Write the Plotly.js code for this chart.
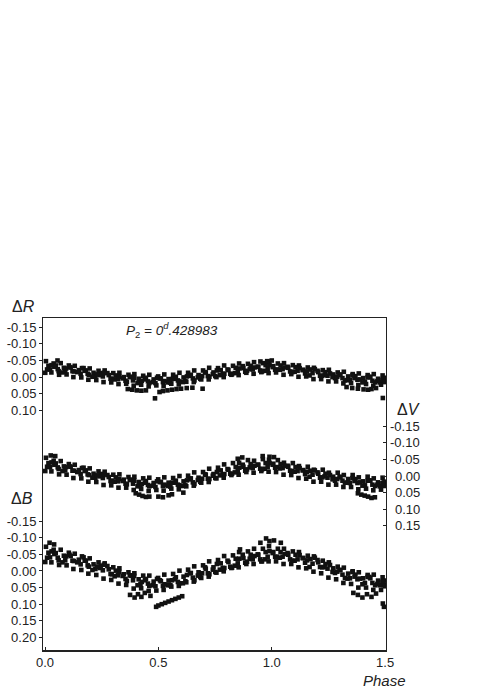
<!DOCTYPE html>
<html>
<head>
<meta charset="utf-8">
<script src="https://cdn.plot.ly/plotly-3.0.1.min.js"></script>
<style>html,body{margin:0;padding:0;background:#fff;}#chart{width:491px;height:693px;}</style>
</head>
<body>
<div id="chart"></div>
<script>
// Phases of six observation runs (shared by all filters)
var ph1 = [0.004,0.038,0.069,0.105,0.131,0.170,0.197,0.236,0.263,0.301,0.328,0.368,0.394,0.433,0.460,0.499,0.526,0.565,0.593,0.631,0.658,0.697,0.724,0.763,0.790,0.829,0.856,0.895,0.922,0.961,0.988,1.027,1.054,1.093,1.120,1.159,1.186,1.225,1.252,1.291,1.318,1.357,1.384,1.423,1.450,1.489];
var ph2 = [0.015,0.047,0.083,0.113,0.149,0.180,0.214,0.246,0.281,0.312,0.347,0.379,0.413,0.445,0.479,0.511,0.545,0.577,0.611,0.643,0.677,0.709,0.743,0.775,0.809,0.841,0.875,0.907,0.941,0.973,1.007,1.039,1.073,1.105,1.139,1.171,1.205,1.237,1.271,1.303,1.337,1.369,1.403,1.435,1.469,1.497];
var ph3 = [0.022,0.056,0.089,0.121,0.157,0.188,0.222,0.255,0.289,0.321,0.355,0.388,0.421,0.454,0.487,0.520,0.553,0.586,0.619,0.652,0.685,0.718,0.751,0.784,0.817,0.850,0.883,0.916,0.949,0.982,1.015,1.048,1.081,1.114,1.147,1.180,1.213,1.246,1.279,1.312,1.345,1.378,1.411,1.444,1.477,1.494];
var ph4 = [0.001,0.028,0.062,0.095,0.125,0.160,0.191,0.226,0.258,0.292,0.324,0.358,0.391,0.424,0.457,0.491,0.523,0.557,0.590,0.623,0.656,0.689,0.722,0.756,0.788,0.822,0.854,0.888,0.920,0.954,0.986,1.019,1.052,1.086,1.118,1.152,1.184,1.218,1.250,1.284,1.316,1.350,1.382,1.416,1.448,1.482];
var ph5 = [0.009,0.041,0.077,0.108,0.142,0.175,0.209,0.241,0.275,0.307,0.342,0.374,0.408,0.441,0.475,0.507,0.541,0.573,0.608,0.639,0.674,0.706,0.740,0.771,0.805,0.837,0.872,0.903,0.938,0.969,1.004,1.036,1.070,1.101,1.136,1.167,1.202,1.233,1.268,1.299,1.334,1.365,1.400,1.431,1.466,1.492];
var ph6 = [0.029,0.060,0.093,0.127,0.163,0.193,0.229,0.260,0.295,0.327,0.361,0.393,0.427,0.460,0.494,0.527,0.560,0.592,0.626,0.659,0.693,0.725,0.758,0.791,0.825,0.857,0.891,0.924,0.957,0.990,1.023,1.057,1.090,1.123,1.156,1.190,1.223,1.257,1.289,1.323,1.356,1.389,1.423,1.456,1.488,1.499];

// Delta R
var r1 = [-0.048,-0.041,-0.042,-0.035,-0.034,-0.027,-0.026,-0.019,-0.020,-0.012,-0.013,-0.007,-0.009,-0.004,-0.007,-0.002,-0.008,-0.007,-0.013,-0.013,-0.020,-0.020,-0.028,-0.027,-0.035,-0.034,-0.041,-0.040,-0.045,-0.042,-0.047,-0.041,-0.042,-0.036,-0.035,-0.029,-0.028,-0.021,-0.022,-0.014,-0.016,-0.009,-0.011,-0.006,-0.009,-0.005];
var r2 = [-0.034,-0.035,-0.028,-0.029,-0.021,-0.020,-0.013,-0.012,-0.006,-0.005,0.000,-0.001,0.005,0.002,0.007,0.004,0.006,-0.001,0.001,-0.007,-0.006,-0.014,-0.014,-0.021,-0.021,-0.028,-0.027,-0.034,-0.031,-0.036,-0.033,-0.035,-0.028,-0.030,-0.022,-0.023,-0.015,-0.015,-0.008,-0.008,-0.002,-0.003,0.003,0.000,0.005,0.002];
var r3 = [-0.023,-0.024,-0.017,-0.018,-0.010,-0.010,-0.002,-0.002,0.005,0.006,0.011,0.010,0.016,0.013,0.018,0.015,0.017,0.010,0.012,0.004,0.005,-0.003,-0.003,-0.010,-0.010,-0.017,-0.016,-0.023,-0.020,-0.025,-0.022,-0.024,-0.017,-0.019,-0.011,-0.012,-0.004,-0.004,0.003,0.003,0.009,0.008,0.014,0.011,0.016,0.013];
var r4 = [-0.013,-0.014,-0.007,-0.008,0.000,0.001,0.008,0.009,0.015,0.016,0.021,0.020,0.026,0.023,0.028,0.025,0.027,0.020,0.022,0.014,0.015,0.007,0.007,0.000,0.000,-0.007,-0.006,-0.013,-0.010,-0.015,-0.012,-0.014,-0.007,-0.009,-0.001,-0.002,0.006,0.006,0.013,0.013,0.019,0.018,0.024,0.021,0.026,0.023];
var r5 = [-0.023,-0.031,-0.014,-0.030,-0.015,-0.019,-0.001,-0.006,-0.012,0.007,0.004,0.000,0.018,0.007,0.015,0.004,0.016,0.005,0.015,-0.004,0.001,-0.015,-0.009,-0.006,-0.023,-0.012,-0.033,-0.024,-0.031,-0.019,-0.030,-0.022,-0.031,-0.016,-0.021,-0.005,-0.019,-0.007,0.000,-0.006,0.009,0.003,0.016,-0.001,0.012,0.005];
var r6 = [-0.036,-0.018,-0.026,-0.017,-0.027,-0.007,-0.008,-0.013,0.005,-0.001,0.014,0.002,0.011,0.018,0.002,0.012,0.006,0.013,-0.002,0.010,-0.003,-0.001,-0.020,-0.010,-0.009,-0.026,-0.019,-0.029,-0.017,-0.036,-0.023,-0.029,-0.015,-0.027,-0.017,-0.024,-0.004,-0.011,-0.001,0.010,-0.005,0.007,0.001,0.016,0.008,0.015];
var rxPh = [0.365,0.385,0.405,0.425,0.445,0.485,0.505,0.520,0.540,0.560,0.580,0.600,0.625,0.650,0.695,1.330,1.355,1.380,1.405,1.425,1.440,1.460,1.490,0.055,0.980,1.000,0.950];
var rxMag = [0.036,0.038,0.040,0.041,0.040,0.064,0.045,0.042,0.040,0.038,0.036,0.035,0.033,0.032,0.035,0.030,0.033,0.035,0.037,0.038,0.036,0.033,0.063,-0.050,-0.048,-0.050,-0.047];

// Delta V
var v1 = [-0.055,-0.046,-0.045,-0.036,-0.034,-0.025,-0.023,-0.014,-0.013,-0.004,-0.005,0.003,0.002,0.007,0.005,0.010,0.004,0.006,0.000,-0.001,-0.011,-0.012,-0.022,-0.025,-0.035,-0.039,-0.040,-0.048,-0.046,-0.051,-0.049,-0.048,-0.040,-0.039,-0.030,-0.028,-0.019,-0.019,-0.010,-0.010,-0.003,-0.003,0.004,0.002,0.007,0.005];
var v2 = [-0.039,-0.038,-0.029,-0.028,-0.018,-0.017,-0.007,-0.006,0.003,0.004,0.011,0.011,0.018,0.015,0.021,0.018,0.020,0.014,0.016,0.007,0.005,-0.004,-0.006,-0.017,-0.019,-0.027,-0.028,-0.036,-0.034,-0.039,-0.037,-0.036,-0.028,-0.027,-0.018,-0.016,-0.007,-0.007,0.002,0.002,0.009,0.009,0.016,0.014,0.019,0.017];
var v3 = [-0.027,-0.026,-0.017,-0.016,-0.006,-0.005,0.005,0.006,0.015,0.016,0.023,0.023,0.030,0.027,0.033,0.030,0.032,0.026,0.028,0.019,0.017,0.008,0.006,-0.005,-0.007,-0.015,-0.016,-0.024,-0.022,-0.027,-0.025,-0.024,-0.016,-0.015,-0.006,-0.004,0.005,0.005,0.014,0.014,0.021,0.021,0.028,0.026,0.031,0.029];
var v4 = [-0.015,-0.014,-0.005,-0.004,0.006,0.007,0.017,0.018,0.027,0.028,0.035,0.035,0.042,0.039,0.045,0.042,0.044,0.038,0.040,0.031,0.029,0.020,0.018,0.007,0.005,-0.003,-0.004,-0.012,-0.010,-0.015,-0.013,-0.012,-0.004,-0.003,0.006,0.008,0.017,0.017,0.026,0.026,0.033,0.033,0.040,0.038,0.043,0.041];
var v5 = [-0.028,-0.034,-0.015,-0.029,-0.012,-0.015,0.005,0.001,-0.003,0.017,0.015,0.012,0.031,0.020,0.029,0.018,0.030,0.020,0.030,0.010,0.012,-0.005,-0.001,-0.002,-0.021,-0.011,-0.034,-0.026,-0.034,-0.022,-0.034,-0.023,-0.031,-0.013,-0.017,0.002,-0.011,0.001,0.010,0.004,0.020,0.015,0.029,0.013,0.026,0.020];
var v6 = [-0.041,-0.021,-0.027,-0.016,-0.024,-0.003,-0.002,-0.006,0.014,0.009,0.025,0.014,0.024,0.031,0.016,0.026,0.020,0.028,0.013,0.024,0.008,0.009,-0.012,-0.006,-0.007,-0.025,-0.020,-0.031,-0.020,-0.039,-0.027,-0.030,-0.015,-0.024,-0.013,-0.017,0.004,-0.003,0.009,0.020,0.006,0.019,0.014,0.030,0.022,0.030];
var vxPh = [0.400,0.415,0.430,0.445,0.460,0.500,0.520,0.545,0.560,1.380,1.395,1.410,1.425,1.440,1.455,0.850,0.870,0.960,0.990,1.010,0.025,0.045,0.610];
var vxMag = [0.052,0.056,0.060,0.063,0.062,0.062,0.064,0.058,0.055,0.052,0.056,0.059,0.062,0.066,0.064,-0.052,-0.056,-0.060,-0.058,-0.057,-0.062,-0.060,0.050];

// Delta B
var b1 = [-0.073,-0.064,-0.064,-0.055,-0.052,-0.041,-0.038,-0.026,-0.023,-0.011,-0.008,0.004,0.007,0.014,0.014,0.021,0.011,0.009,-0.001,-0.004,-0.014,-0.017,-0.029,-0.033,-0.045,-0.047,-0.057,-0.059,-0.067,-0.067,-0.075,-0.067,-0.067,-0.059,-0.057,-0.046,-0.044,-0.031,-0.026,-0.013,-0.010,0.001,0.004,0.012,0.011,0.019];
var b2 = [-0.055,-0.054,-0.046,-0.045,-0.034,-0.031,-0.020,-0.016,-0.005,-0.001,0.010,0.014,0.025,0.024,0.032,0.031,0.029,0.019,0.017,0.006,0.004,-0.007,-0.011,-0.023,-0.027,-0.037,-0.039,-0.049,-0.049,-0.057,-0.057,-0.057,-0.049,-0.049,-0.039,-0.036,-0.026,-0.021,-0.008,-0.003,0.008,0.011,0.022,0.022,0.029,0.029];
var b3 = [-0.041,-0.040,-0.032,-0.031,-0.020,-0.017,-0.006,-0.002,0.009,0.013,0.024,0.028,0.039,0.038,0.046,0.045,0.043,0.033,0.031,0.020,0.018,0.007,0.003,-0.009,-0.013,-0.023,-0.025,-0.035,-0.035,-0.043,-0.043,-0.043,-0.035,-0.035,-0.025,-0.022,-0.012,-0.007,0.006,0.011,0.022,0.025,0.036,0.036,0.043,0.043];
var b4 = [-0.027,-0.026,-0.018,-0.017,-0.006,-0.003,0.008,0.012,0.023,0.027,0.038,0.042,0.053,0.052,0.060,0.059,0.057,0.047,0.045,0.034,0.032,0.021,0.017,0.005,0.001,-0.009,-0.011,-0.021,-0.021,-0.029,-0.029,-0.029,-0.021,-0.021,-0.011,-0.008,0.002,0.007,0.020,0.025,0.036,0.039,0.050,0.050,0.057,0.057];
var b5 = [-0.040,-0.051,-0.026,-0.049,-0.026,-0.031,-0.003,-0.009,-0.015,0.016,0.015,0.013,0.043,0.028,0.043,0.028,0.043,0.025,0.037,0.007,0.014,-0.011,-0.004,-0.004,-0.031,-0.016,-0.049,-0.037,-0.050,-0.035,-0.054,-0.040,-0.054,-0.031,-0.039,-0.012,-0.033,-0.012,0.003,-0.003,0.023,0.017,0.040,0.018,0.039,0.030];
var b6 = [-0.059,-0.032,-0.044,-0.030,-0.044,-0.013,-0.013,-0.019,0.010,0.003,0.030,0.015,0.033,0.045,0.024,0.040,0.028,0.037,0.012,0.028,0.007,0.010,-0.021,-0.009,-0.010,-0.037,-0.028,-0.045,-0.029,-0.060,-0.043,-0.051,-0.031,-0.048,-0.032,-0.040,-0.011,-0.018,0.002,0.021,0.003,0.023,0.018,0.043,0.032,0.046];
var bxPh = [0.490,0.500,0.515,0.530,0.545,0.560,0.575,0.590,0.605,0.375,0.395,0.410,0.425,0.440,0.465,1.360,1.380,1.400,1.420,1.440,1.460,1.495,1.490,0.975,0.990,1.010,0.950,1.040,0.020,0.040,0.860];
var bxMag = [0.108,0.104,0.100,0.096,0.092,0.088,0.084,0.080,0.076,0.072,0.080,0.070,0.078,0.066,0.075,0.066,0.072,0.080,0.070,0.078,0.068,0.108,0.098,-0.098,-0.090,-0.092,-0.085,-0.085,-0.085,-0.080,-0.065];

// Tick labels
var xTicks = [0, 0.5, 1.0, 1.5];
var rTicks = [-0.15, -0.10, -0.05, 0.00, 0.05, 0.10];
var vTicks = [-0.15, -0.10, -0.05, 0.00, 0.05, 0.10, 0.15];
var bTicks = [-0.15, -0.10, -0.05, 0.00, 0.05, 0.10, 0.15, 0.20];
var periodLabel = '<i>P</i><sub>2</sub><i> = 0</i><sup><i>d</i></sup><i>.428983</i>';

var allPh = ph1.concat(ph2, ph3, ph4, ph5, ph6);
function fmt(v){ return v.toFixed(2); }
var mk = {symbol: 'square', size: 4.6, color: '#111', line: {width: 0}};
var FONT = 'Liberation Sans, Arial, sans-serif';

var traces = [
  {x: allPh.concat(rxPh), y: r1.concat(r2, r3, r4, r5, r6, rxMag), xaxis: 'x', yaxis: 'y', type: 'scatter', mode: 'markers', marker: mk, hoverinfo: 'none'},
  {x: allPh.concat(vxPh), y: v1.concat(v2, v3, v4, v5, v6, vxMag), xaxis: 'x', yaxis: 'y2', type: 'scatter', mode: 'markers', marker: mk, hoverinfo: 'none'},
  {x: allPh.concat(bxPh), y: b1.concat(b2, b3, b4, b5, b6, bxMag), xaxis: 'x', yaxis: 'y3', type: 'scatter', mode: 'markers', marker: mk, hoverinfo: 'none'}
];

var tickFont = {family: FONT, size: 13, color: '#222'};
var annotations = [
  {text: '\u0394<i>R</i>', xref: 'paper', yref: 'paper', x: -0.058, y: 1.036, xanchor: 'center', yanchor: 'middle', showarrow: false, font: {family: FONT, size: 16, color: '#222'}},
  {text: '\u0394<i>B</i>', xref: 'paper', yref: 'paper', x: -0.061, y: 0.455, xanchor: 'center', yanchor: 'middle', showarrow: false, font: {family: FONT, size: 16, color: '#222'}},
  {text: '\u0394<i>V</i>', xref: 'paper', yref: 'paper', x: 1.067, y: 0.723, xanchor: 'center', yanchor: 'middle', showarrow: false, font: {family: FONT, size: 16, color: '#222'}},
  {text: periodLabel, xref: 'paper', yref: 'paper', x: 0.236, y: 0.964, xanchor: 'left', yanchor: 'middle', showarrow: false, font: {family: FONT, size: 13.5, color: '#222'}},
  {text: '<i>Phase</i>', xref: 'paper', yref: 'paper', x: 0.997, y: -0.093, xanchor: 'center', yanchor: 'middle', showarrow: false, font: {family: FONT, size: 15, color: '#222'}}
];
vTicks.forEach(function(v){
  annotations.push({text: fmt(v), xref: 'paper', yref: 'y2', x: 1.105, y: v, xanchor: 'right', yanchor: 'middle', showarrow: false, font: tickFont});
});

var layout = {
  width: 491, height: 693,
  margin: {l: 43, r: 105, t: 318, b: 43, pad: 0},
  paper_bgcolor: '#fff', plot_bgcolor: '#fff',
  showlegend: false,
  font: {family: FONT, color: '#222'},
  xaxis: {range: [-0.009, 1.504], tickvals: xTicks, ticktext: xTicks.map(function(v){return v.toFixed(1);}),
          ticks: 'inside', ticklen: 3, tickcolor: '#222', showgrid: false, zeroline: false,
          showline: true, linecolor: '#222', linewidth: 1.5, mirror: true, tickfont: tickFont},
  yaxis: {range: [0.822, -0.178], tickvals: rTicks, ticktext: rTicks.map(fmt),
          ticks: 'outside', ticklen: 3, tickcolor: '#222', showgrid: false, zeroline: false,
          showline: true, linecolor: '#222', linewidth: 1, mirror: true, tickfont: tickFont},
  yaxis2: {range: [0.524, -0.476], overlaying: 'y', side: 'right', tickvals: vTicks,
           ticks: 'inside', ticklen: 3, tickcolor: '#222', showticklabels: false, showgrid: false, zeroline: false, showline: false},
  yaxis3: {range: [0.238, -0.762], overlaying: 'y', side: 'left', tickvals: bTicks, ticktext: bTicks.map(fmt),
           ticks: 'outside', ticklen: 3, tickcolor: '#222', showgrid: false, zeroline: false, showline: false, tickfont: tickFont},
  annotations: annotations
};

Plotly.newPlot('chart', traces, layout, {staticPlot: true, displayModeBar: false});
</script>
</body>
</html>
